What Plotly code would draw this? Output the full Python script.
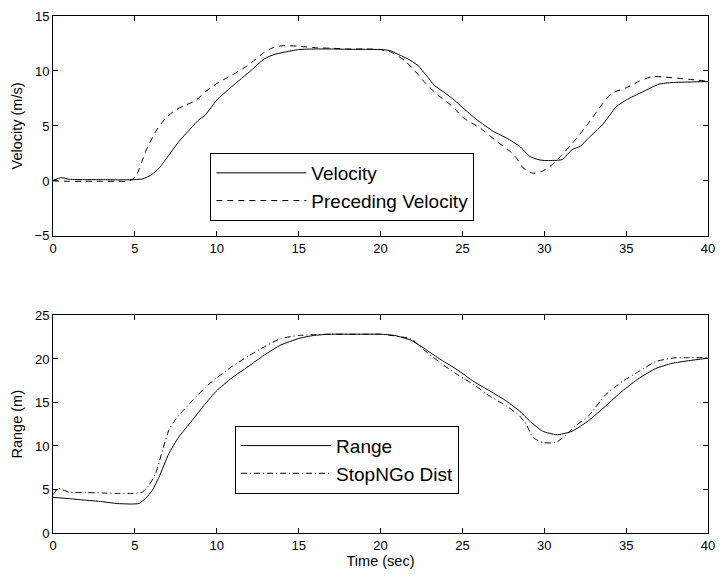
import plotly.graph_objects as go

# ---- data ----
t_vel = [0, 0.5, 1, 2, 3, 4, 5, 5.5, 6.06, 6.5, 7.1, 7.7, 8.3, 8.9, 9.3, 10, 10.9, 12.1, 12.9, 13.5, 14.1, 15,
         16, 17, 18, 19, 20, 20.56, 21.1, 21.67, 22.28, 22.8, 23.28, 23.9, 24.5, 25.3, 25.9, 26.9, 27.7, 28.5,
         29.1, 29.6, 30.0, 30.5, 31.1, 31.7, 32.2, 32.7, 33.55, 34.4, 35.0, 36.0, 37.0, 37.8, 39, 40]
velocity = [0.05, 0.3, 0.15, 0.12, 0.12, 0.1, 0.12, 0.2, 0.6, 1.2, 2.4, 3.6, 4.6, 5.55, 6.0, 7.35, 8.55, 10.05,
            11.1, 11.5, 11.7, 11.95, 12.0, 12.0, 11.97, 11.97, 11.95, 11.86, 11.5, 11.1, 10.5, 9.6, 8.7, 8.05,
            7.36, 6.3, 5.55, 4.5, 3.9, 3.15, 2.25, 1.95, 1.86, 1.86, 1.95, 2.85, 3.15, 3.9, 5.1, 6.75, 7.36, 8.1,
            8.8, 8.95, 9.0, 9.04]

t_pre = [0, 1, 2, 3, 4, 4.6, 5.06, 5.66, 6.27, 6.87, 7.48, 8.1, 8.7, 9.3, 10, 10.9, 11.9, 12.9, 13.5, 14.1, 15,
         16.15, 17, 18, 19, 20, 20.66, 21.47, 22.07, 22.68, 23.5, 24.3, 25.1, 26.1, 27.1, 27.9, 28.3, 28.7,
         29.3, 29.9, 30.5, 31.1, 31.9, 32.7, 33.5, 34.1, 35.0, 35.8, 36.6, 37.2, 38.8, 40]
preceding_velocity = [0, -0.03, -0.03, -0.03, -0.03, -0.05, 0.4, 2.7, 4.5, 5.7, 6.45, 6.9, 7.3, 8.1, 8.86, 9.6,
                      10.5, 11.7, 12.16, 12.3, 12.25, 12.1, 12.07, 12.0, 12.0, 11.95, 11.7, 10.96, 10.06, 9.0,
                      7.8, 6.9, 5.7, 4.8, 3.6, 2.7, 2.1, 1.2, 0.7, 0.9, 1.5, 2.4, 3.75, 5.25, 6.9, 7.96, 8.47,
                      9.07, 9.5, 9.46, 9.25, 9.07]

t_rng = [0, 1, 1.83, 3, 3.85, 4.85, 5.26, 5.66, 6.06, 6.47, 7.07, 7.67, 8.48, 9.28, 9.97, 10.9, 11.9, 12.9, 13.9,
         15, 15.9, 16.9, 18, 19, 20, 20.87, 21.87, 22.68, 23.7, 24.7, 25.7, 26.7, 27.7, 28.5, 29.1, 29.9, 30.7,
         30.9, 31.7, 32.7, 33.75, 34.76, 35.8, 36.8, 37.8, 38.8, 40]
range_m = [4.1, 3.95, 3.8, 3.6, 3.4, 3.33, 3.4, 3.98, 4.9, 6.4, 9.1, 11.0, 12.9, 14.8, 16.3, 17.8, 19.1, 20.45,
           21.6, 22.35, 22.7, 22.85, 22.85, 22.85, 22.85, 22.7, 22.15, 21.2, 19.9, 18.75, 17.4, 16.3, 15.15,
           14.0, 12.9, 11.7, 11.3, 11.3, 11.7, 12.9, 14.6, 16.3, 17.8, 18.9, 19.5, 19.8, 20.1]

t_sng = [0, 0.3, 1, 2, 3, 4, 4.85, 5.46, 5.86, 6.26, 6.67, 7.07, 7.35, 7.67, 8.48, 9.28, 9.97, 10.9, 11.9, 12.9,
         13.9, 15, 15.9, 17, 18, 19, 20, 21.87, 22.68, 23.7, 24.7, 25.7, 26.7, 27.7, 28.5, 28.9, 29.3, 29.9, 30.7,
         31.3, 31.9, 32.7, 33.75, 34.76, 35.8, 36.8, 37.8, 38.8, 40]
stopngo_dist = [4.4, 5.1, 4.7, 4.65, 4.6, 4.55, 4.55, 4.7, 5.5, 6.8, 9.4, 11.8, 12.7, 13.5, 15.15, 16.7, 17.8,
                19.1, 20.3, 21.4, 22.35, 22.7, 22.8, 22.85, 22.85, 22.85, 22.85, 22.3, 21.0, 19.5, 18.2, 17.05,
                15.7, 14.6, 13.45, 12.5, 11.0, 10.4, 10.4, 11.2, 12.3, 13.45, 15.9, 17.4, 18.6, 19.7, 20.1,
                20.15, 20.15]

x_ticks = [0, 5, 10, 15, 20, 25, 30, 35, 40]
vel_ticks = [-5, 0, 5, 10, 15]
rng_ticks = [0, 5, 10, 15, 20, 25]

FONT = "Liberation Sans, Arial, Helvetica, sans-serif"

fig = go.Figure()
line_kw = dict(color="black", width=1, shape="spline", smoothing=0.5)
fig.add_trace(go.Scatter(x=t_vel, y=velocity, mode="lines", name="Velocity",
                         line=dict(**line_kw), xaxis="x", yaxis="y", legend="legend"))
fig.add_trace(go.Scatter(x=t_pre, y=preceding_velocity, mode="lines", name="Preceding Velocity",
                         line=dict(**line_kw, dash="6px,5px"), xaxis="x", yaxis="y", legend="legend"))
fig.add_trace(go.Scatter(x=t_rng, y=range_m, mode="lines", name="Range",
                         line=dict(**line_kw), xaxis="x2", yaxis="y2", legend="legend2"))
fig.add_trace(go.Scatter(x=t_sng, y=stopngo_dist, mode="lines", name="StopNGo Dist",
                         line=dict(**line_kw, dash="6px,3px,1px,3px"), xaxis="x2", yaxis="y2",
                         legend="legend2"))

axis_common = dict(showline=True, linecolor="black", linewidth=1, mirror="ticks", ticks="inside",
                   ticklen=5, tickcolor="black", tickwidth=1, showgrid=False, zeroline=False,
                   tickfont=dict(family=FONT, size=13, color="black"))

legend_common = dict(xanchor="left", yanchor="top", bgcolor="white", bordercolor="black",
                     borderwidth=1, itemwidth=90, tracegroupgap=0,
                     font=dict(family=FONT, size=19, color="black"))

fig.update_layout(
    width=724, height=578,
    margin=dict(l=53, r=9, t=10, b=45),
    paper_bgcolor="white", plot_bgcolor="white",
    font=dict(family=FONT, color="black"),
    xaxis=dict(domain=[0, 1], anchor="y", range=[0, 40], tickvals=x_ticks, **axis_common),
    yaxis=dict(domain=[0.5746, 1.0], anchor="x", range=[-5, 15], tickvals=vel_ticks,
               title=dict(text="Velocity (m/s)", font=dict(family=FONT, size=14.5), standoff=8),
               **axis_common),
    xaxis2=dict(domain=[0, 1], anchor="y2", range=[0, 40], tickvals=x_ticks,
                title=dict(text="Time (sec)", font=dict(family=FONT, size=14.5), standoff=4),
                **axis_common),
    yaxis2=dict(domain=[0, 0.4207], anchor="x2", range=[0, 25], tickvals=rng_ticks,
                title=dict(text="Range (m)", font=dict(family=FONT, size=14.5), standoff=8),
                **axis_common),
    legend=dict(x=0.2402, y=0.735, **legend_common),
    legend2=dict(x=0.278, y=0.2075, **legend_common),
)

fig.write_html("out.html")
